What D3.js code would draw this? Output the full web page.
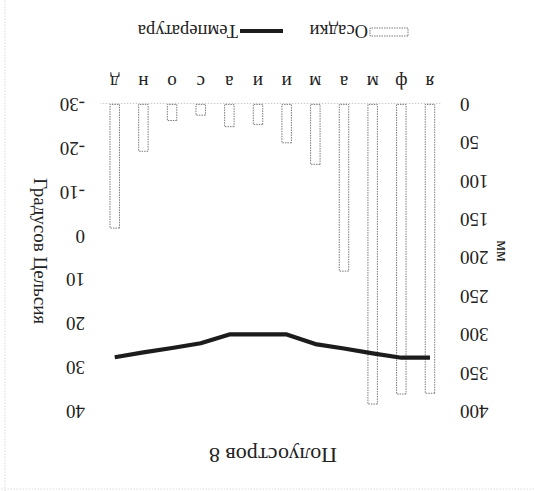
<!DOCTYPE html>
<html>
<head>
<meta charset="utf-8">
<script src="https://cdn.jsdelivr.net/npm/d3@7"></script>
<style>
  html, body { margin: 0; padding: 0; background: #fff; }
  svg { display: block; }
  text { font-family: "Liberation Serif", "DejaVu Serif", serif; fill: #222; }
</style>
</head>
<body>
<svg id="chart" width="534" height="491"></svg>
<script>
// Data (original orientation; the scanned reference is upside-down)
const months = ["я", "ф", "м", "а", "м", "и", "и", "а", "с", "о", "н", "д"];
const precipitation = [376, 377, 390, 217, 78, 50, 26, 29, 14, 21, 61, 161]; // мм
const temperature = [27.7, 27.7, 26.7, 25.6, 24.6, 22.4, 22.4, 22.4, 24.4, 25.5, 26.5, 27.6]; // °C
const mmTicks = [0, 50, 100, 150, 200, 250, 300, 350, 400];
const tempTicks = [-30, -20, -10, 0, 10, 20, 30, 40];
const title = "Полуостров 8";
const leftTitle = "мм";
const rightTitle = "Градусов Цельсия";
const legendLabels = ["Осадки", "Температура"];

const W = 534, H = 491;
const svg = d3.select("#chart");
svg.append("rect").attr("width", W).attr("height", H).attr("fill", "#fff");

// whole chart rotated 180° as in the scan
const g = svg.append("g").attr("transform", `rotate(180,${W / 2},${H / 2})`);

const x = d3.scaleBand().domain(d3.range(months.length))
  .range([89.7, 433.6]).paddingInner(0.67).paddingOuter(0.335);
const yMM = d3.scaleLinear().domain([0, 400]).range([386.6, 79.3]);
const yT = d3.scaleLinear().domain([-30, 40]).range([386.6, 79.3]);

// scan border traces
g.append("line").attr("x1", 529).attr("x2", 529).attr("y1", 0).attr("y2", H)
  .attr("stroke", "#d8d8d8").attr("stroke-dasharray", "1.5,1.5");
g.append("line").attr("x1", 0).attr("x2", W).attr("y1", 2).attr("y2", 2)
  .attr("stroke", "#dddddd").attr("stroke-dasharray", "1.5,1.5");

// baseline
g.append("line").attr("x1", x.range()[0] + 4).attr("x2", x.range()[1])
  .attr("y1", yMM(0) + 1).attr("y2", yMM(0) + 1)
  .attr("stroke", "#c8c8c8").attr("stroke-dasharray", "1.5,1.5");

// bars
g.append("g").selectAll("rect").data(precipitation).join("rect")
  .attr("x", (d, i) => x(i))
  .attr("width", x.bandwidth())
  .attr("y", d => yMM(d))
  .attr("height", d => yMM(0) - yMM(d))
  .attr("fill", "#fff")
  .attr("stroke", "#7a7a7a")
  .attr("stroke-width", 1)
  .attr("stroke-dasharray", "1.5,1");

// temperature line
const line = d3.line().x((d, i) => x(i) + x.bandwidth() / 2).y(d => yT(d));
g.append("path").datum(temperature).attr("d", line)
  .attr("fill", "none").attr("stroke", "#1c1c1c").attr("stroke-width", 4.2)
  .attr("stroke-linejoin", "round");

// left axis (mm)
const axL = g.append("g").attr("transform", "translate(74,0)")
  .call(d3.axisLeft(yMM).tickValues(mmTicks).tickSize(0).tickPadding(0));
axL.select(".domain").remove();
axL.selectAll("text").attr("font-size", 19).attr("fill", "#222")
  .style("font-family", '"Liberation Serif", serif');

// right axis (°C)
const axR = g.append("g").attr("transform", "translate(449,0)")
  .call(d3.axisRight(yT).tickValues(tempTicks).tickSize(0).tickPadding(0)
    .tickFormat(d3.format("d")));
axR.select(".domain").remove();
axR.selectAll("text").attr("font-size", 19).attr("fill", "#222")
  .style("font-family", '"Liberation Serif", serif')
  .text(d => (d < 0 ? "-" + Math.abs(d) : d));

// month labels
const axB = g.append("g").attr("transform", "translate(0,402)")
  .call(d3.axisBottom(x).tickSize(0).tickPadding(0).tickFormat(i => months[i]));
axB.select(".domain").remove();
axB.selectAll("text").attr("font-size", 19).attr("fill", "#222")
  .style("font-family", '"Liberation Serif", serif');

// axis titles
g.append("text").attr("transform", "translate(37,240) rotate(-90)")
  .attr("text-anchor", "middle").attr("font-size", 17).text(leftTitle);
g.append("text").attr("transform", "translate(500,240) rotate(-90)")
  .attr("text-anchor", "middle").attr("font-size", 19).text(rightTitle);

// title
g.append("text").attr("x", 261).attr("y", 43).attr("text-anchor", "middle")
  .attr("font-size", 22).text(title);

// legend
const lg = g.append("g");
lg.append("rect").attr("x", 126).attr("y", 455).attr("width", 38).attr("height", 8)
  .attr("fill", "#fff").attr("stroke", "#7a7a7a").attr("stroke-dasharray", "1.5,1");
lg.append("text").attr("x", 166).attr("y", 466).attr("font-size", 18.5).text(legendLabels[0]);
lg.append("line").attr("x1", 251).attr("x2", 294).attr("y1", 460).attr("y2", 460)
  .attr("stroke", "#1c1c1c").attr("stroke-width", 4.2);
lg.append("text").attr("x", 296).attr("y", 466).attr("font-size", 18.5).text(legendLabels[1]);
</script>
</body>
</html>
